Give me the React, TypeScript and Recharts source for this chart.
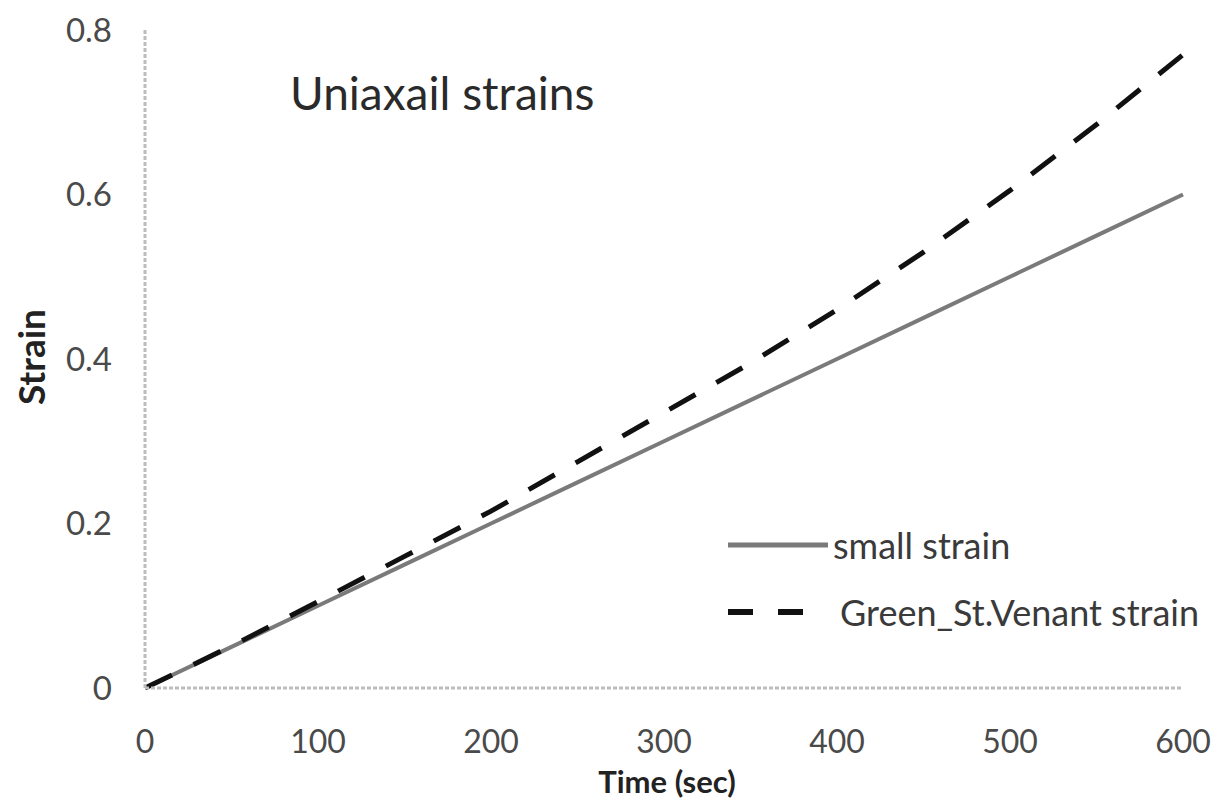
import { LineChart, Line, XAxis, YAxis, Legend } from 'recharts'

const times = [0, 50, 100, 150, 200, 250, 300, 350, 400, 450, 500, 550, 600]
const smallStrain = [0, 0.05, 0.1, 0.15, 0.2, 0.25, 0.3, 0.35, 0.4, 0.45, 0.5, 0.55, 0.6]
const greenStrain = [0, 0.051, 0.105, 0.16, 0.215, 0.275, 0.335, 0.395, 0.46, 0.53, 0.605, 0.685, 0.77]
const xTicks = [0, 100, 200, 300, 400, 500, 600]
const yTicks = [0, 0.2, 0.4, 0.6, 0.8]

const data = times.map((t, i) => ({ t, small: smallStrain[i], green: greenStrain[i] }))

const FONT = 'Lato, "Open Sans", sans-serif'
const AXIS = { stroke: '#bdbdbd', strokeWidth: 3, strokeDasharray: '4 2' }

function LegendBox() {
  return (
    <div style={{ fontFamily: FONT, fontSize: 36, color: '#3a3a3a', lineHeight: 1, textAlign: 'left' }}>
      <div style={{ display: 'flex', alignItems: 'center', height: 40 }}>
        <svg width={104} height={10}>
          <line x1={0} y1={5} x2={100} y2={5} stroke="#7a7a7a" strokeWidth={5} />
        </svg>
        <span style={{ marginLeft: 1 }}>small strain</span>
      </div>
      <div style={{ display: 'flex', alignItems: 'center', height: 40, marginTop: 27 }}>
        <svg width={112} height={10}>
          <line x1={0} y1={5} x2={80} y2={5} stroke="#111" strokeWidth={6} strokeDasharray="25 25" />
        </svg>
        <span>Green_St.Venant strain</span>
      </div>
    </div>
  )
}

export default function App() {
  return (
    <div style={{ position: 'absolute', left: 0, top: 0, width: 1217, height: 802, background: '#fff' }}>
      <LineChart width={1217} height={802} data={data} margin={{ top: 30, right: 34, left: 0, bottom: 54 }}>
        <XAxis
          dataKey="t"
          type="number"
          domain={[0, 600]}
          ticks={xTicks}
          axisLine={AXIS}
          tickLine={false}
          tickSize={0}
          tickMargin={42}
          height={60}
          tick={{ fill: '#4a4a4a', fontSize: 32, fontFamily: FONT }}
        />
        <YAxis
          type="number"
          domain={[0, 0.8]}
          ticks={yTicks}
          axisLine={AXIS}
          tickLine={false}
          tickSize={0}
          tickMargin={33}
          width={145}
          tickFormatter={(v: number) => (v === 0 ? '0' : v.toFixed(1))}
          tick={{ fill: '#4a4a4a', fontSize: 33, fontFamily: FONT }}
        />
        <Legend
          layout="horizontal"
          verticalAlign="middle"
          align="center"
          content={() => <LegendBox />}
          wrapperStyle={{ position: 'absolute', left: 728, top: 525, width: 480, height: 110 }}
        />
        <Line
          dataKey="small"
          stroke="#7a7a7a"
          strokeWidth={4}
          dot={false}
          isAnimationActive={false}
        />
        <Line
          dataKey="green"
          stroke="#111"
          strokeWidth={5}
          strokeDasharray="30 24"
          dot={false}
          isAnimationActive={false}
        />
        <text x={290} y={110} fontSize={46} fontFamily={FONT} fill="#2a2a2a">
          Uniaxail strains
        </text>
        <text x={667} y={793} fontSize={31} fontWeight="bold" fontFamily={FONT} fill="#222" textAnchor="middle">
          Time (sec)
        </text>
        <text
          x={45}
          y={357}
          fontSize={37}
          fontWeight="bold"
          fontFamily={FONT}
          fill="#222"
          textAnchor="middle"
          transform="rotate(-90 45 357)"
        >
          Strain
        </text>
      </LineChart>
    </div>
  )
}
